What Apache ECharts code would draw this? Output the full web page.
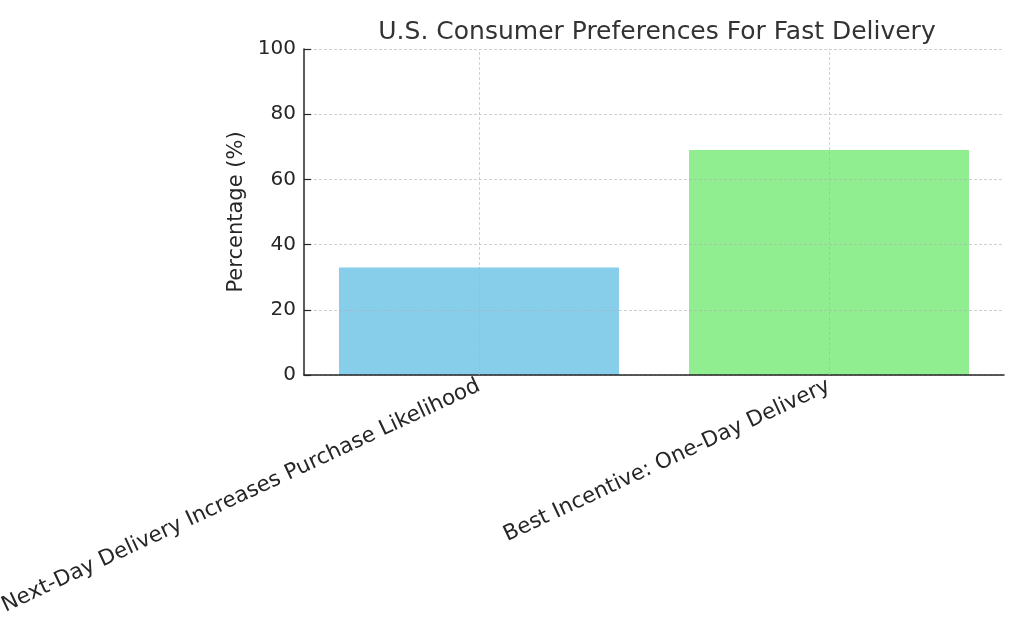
<!DOCTYPE html>
<html>
<head>
<meta charset="utf-8">
<script src="https://cdn.jsdelivr.net/npm/echarts@6/dist/echarts.min.js"></script>
<style>
html,body{margin:0;padding:0;background:#fff;}
#c{width:1024px;height:640px;}
</style>
</head>
<body>
<div id="c"></div>
<script>
const categories = ["Next-Day Delivery Increases Purchase Likelihood", "Best Incentive: One-Day Delivery"];
const values = [33, 69];
const barColors = ["#87CEEB", "#90EE90"];
const yTicks = [0, 20, 40, 60, 80, 100];

const chart = echarts.init(document.getElementById('c'));
const font = "DejaVu Sans";
const gridStyle = { color: 'rgba(176,176,176,0.6)', type: [3, 2], width: 1 };
chart.setOption({
  animation: false,
  backgroundColor: '#ffffff',
  title: {
    text: 'U.S. Consumer Preferences For Fast Delivery',
    left: 652, top: 15, textAlign: 'center',
    textStyle: { fontFamily: font, fontSize: 25, fontWeight: 'normal', color: '#333333' }
  },
  grid: { left: 304, right: 20, top: 49, bottom: 265, containLabel: false, outerBoundsMode: 'none' },
  xAxis: {
    type: 'category',
    data: categories,
    z: 3,
    axisLine: { lineStyle: { color: '#262626', width: 1.5 } },
    axisTick: { alignWithLabel: true, inside: true, length: 7, lineStyle: { color: '#262626', width: 1.2 } },
    axisLabel: { rotate: 25, fontFamily: font, fontSize: 21.5, color: '#262626', margin: 10, interval: 0 },
    splitLine: { show: false }
  },
  yAxis: {
    type: 'value',
    min: yTicks[0], max: yTicks[yTicks.length - 1], interval: 20,
    z: 3,
    name: 'Percentage (%)', nameLocation: 'middle', nameGap: 55,
    nameTextStyle: { fontFamily: font, fontSize: 21, color: '#262626' },
    axisLine: { show: true, lineStyle: { color: '#262626', width: 1.5 } },
    axisTick: { show: true, inside: true, length: 7, lineStyle: { color: '#262626', width: 1.2 } },
    axisLabel: { fontFamily: font, fontSize: 20, color: '#262626', margin: 8 },
    splitLine: { show: true, lineStyle: gridStyle }
  },
  series: [{
    type: 'bar',
    barWidth: '80%',
    data: values.map((v, i) => ({ value: v, itemStyle: { color: barColors[i] } })),
    markLine: {
      silent: true,
      symbol: ['none', 'none'],
      label: { show: false },
      lineStyle: gridStyle,
      emphasis: { disabled: true },
      data: categories.map(c => ({ xAxis: c }))
    }
  }]
});
</script>
</body>
</html>
